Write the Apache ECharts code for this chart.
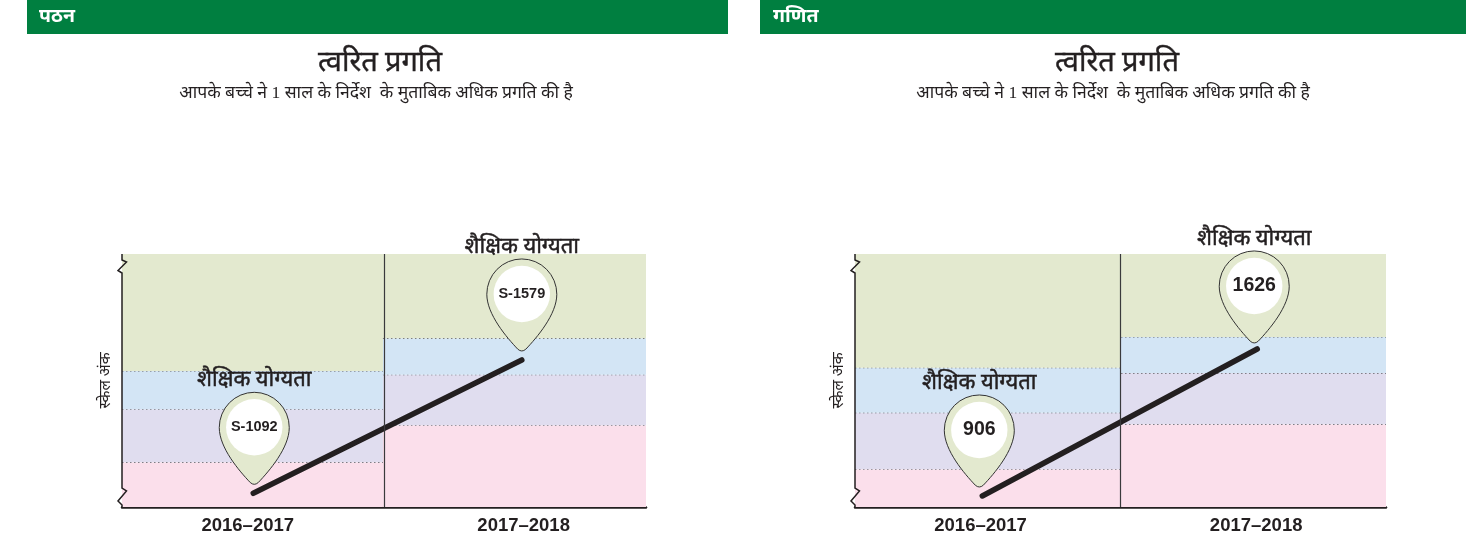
<!DOCTYPE html>
<html>
<head>
<meta charset="utf-8">
<style>
  html, body { margin: 0; padding: 0; background: #fff; }
  #main { width: 1466px; height: 545px; }
</style>
<script src="https://cdn.jsdelivr.net/npm/echarts@6/dist/echarts.min.js"></script>
</head>
<body>
<div id="main"></div>
<script>
var periods = ['2016–2017', '2017–2018']
var headline = 'त्वरित प्रगति'
var subline = 'आपके बच्चे ने 1 साल के निर्देश  के मुताबिक अधिक प्रगति की है'
var pinTitle = 'शैक्षिक योग्यता'
var yName = 'स्केल अंक'

// पठन
var readingScores = [1092, 1579]
var readingPinText = ['S-1092', 'S-1579']
var readingX = [0.501, 1.526]
var readingLabelX = [0.48, 1.533]
var readingBands2016 = [1042, 1205, 1399, 1539, 1966]
var readingBands2017 = [1042, 1341, 1525, 1658, 1966]
var readingDivider = 0.996

// गणित
var mathScores = [906, 1626]
var mathPinText = ['906', '1626']
var mathX = [0.4795, 1.515]
var mathLabelX = [0.473, 1.511]
var mathBands2016 = [852, 1037, 1314, 1534, 2091]
var mathBands2017 = [852, 1257, 1508, 1685, 2091]
var mathDivider = 1.002

var bandColors = ['#fbdfeb', '#e0ddef', '#d3e5f5', '#e3e9cf']
var inkColor = '#231f20'
var textFont = '"Liberation Serif", "Noto Sans", serif'
var numFont = '"Liberation Sans", Arial, sans-serif'

var panels = [
  {
    name: 'पठन', left: 122, width: 524, top: 254, height: 253, barLeft: 27, barWidth: 701,
    nameX: 34, headX: 375, subX: 371,
    scores: readingScores, pinText: readingPinText, x: readingX, labelX: readingLabelX,
    bands: [readingBands2016, readingBands2017], divider: readingDivider,
    pinFont: 14.5, pinShift: [[1, -9], [0, -9]]
  },
  {
    name: 'गणित', left: 855, width: 531, top: 254, height: 253, barLeft: 760, barWidth: 706,
    nameX: 768, headX: 1112, subX: 1108,
    scores: mathScores, pinText: mathPinText, x: mathX, labelX: mathLabelX,
    bands: [mathBands2016, mathBands2017], divider: mathDivider,
    pinFont: 19.5, pinShift: [[-3, -9], [-3, -6]]
  }
]

// रंगीन पट्टियाँ
function bandSeries (panel, i) {
  var data = []
  panel.bands.forEach(function (edges, col) {
    for (var k = 0; k < edges.length - 1; k++) {
      data.push([col === 0 ? 0 : panel.divider, col === 0 ? panel.divider : 2, edges[k], edges[k + 1], k])
    }
  })
  return {
    type: 'custom',
    xAxisIndex: i,
    yAxisIndex: i,
    z: 1,
    silent: true,
    data: data,
    renderItem: function (params, api) {
      var a = api.coord([api.value(0), api.value(3)])
      var b = api.coord([api.value(1), api.value(2)])
      var kids = [{
        type: 'rect',
        shape: { x: a[0], y: a[1], width: b[0] - a[0], height: b[1] - a[1] },
        style: { fill: bandColors[api.value(4)] }
      }]
      if (api.value(4) < 3) {
        kids.push({
          type: 'line',
          shape: { x1: a[0], y1: a[1], x2: b[0], y2: a[1] },
          style: { stroke: '#5c5c60', lineWidth: 1.2, lineDash: [1.5, 2.5] }
        })
      }
      return { type: 'group', children: kids }
    }
  }
}

// टूटा हुआ y अक्ष
function breakAxisSeries (panel, i) {
  return {
    type: 'custom',
    xAxisIndex: i,
    yAxisIndex: i,
    z: 3,
    silent: true,
    data: [[0, panel.bands[0][0], panel.bands[0][4]]],
    renderItem: function (params, api) {
      var top = api.coord([api.value(0), api.value(2)])
      var bottom = api.coord([api.value(0), api.value(1)])
      var x = top[0]
      var t = top[1]
      var b = bottom[1]
      return {
        type: 'polyline',
        shape: {
          points: [
            [x, t], [x, t + 6], [x + 4.5, t + 8], [x - 4, t + 16.5], [x, t + 19],
            [x, b - 19], [x + 4.5, b - 16], [x - 4, b - 6], [x, b - 2], [x, b]
          ]
        },
        style: { stroke: inkColor, lineWidth: 1.5, fill: null }
      }
    }
  }
}

function pinSeries (panel, i) {
  return {
    type: 'custom',
    xAxisIndex: i,
    yAxisIndex: i,
    z: 5,
    silent: true,
    data: panel.scores.map(function (v, k) { return [panel.x[k], v] }),
    renderItem: function (params, api) {
      var p = api.coord([api.value(0), api.value(1)])
      var shift = panel.pinShift[params.dataIndex]
      var cx = p[0] + shift[0]
      var tip = p[1] + shift[1]
      return {
        type: 'group',
        children: [
          {
            type: 'path',
            shape: {
              pathData: 'M0,35 A35,35 0 1 1 70,35 C70,55 50,78 39,89.5 Q35,93 31,89.5 C20,78 0,55 0,35 Z',
              x: cx - 35,
              y: tip - 92,
              width: 70,
              height: 92,
              layout: 'cover'
            },
            style: { fill: '#e3e9cf', stroke: '#333', lineWidth: 1 }
          },
          {
            type: 'circle',
            shape: { cx: cx, cy: tip - 57, r: 28.2 },
            style: { fill: '#fff' }
          },
          {
            type: 'text',
            style: {
              text: panel.pinText[params.dataIndex],
              x: cx,
              y: tip - 57,
              align: 'center',
              verticalAlign: 'middle',
              fill: inkColor,
              font: 'bold ' + panel.pinFont + 'px ' + numFont
            }
          },
          {
            type: 'text',
            style: {
              text: pinTitle,
              x: cx,
              y: tip - 104,
              align: 'center',
              verticalAlign: 'middle',
              fill: inkColor,
              stroke: inkColor,
              lineWidth: 0.5,
              font: '22px ' + textFont
            }
          }
        ]
      }
    }
  }
}

var option = {
  animation: false,
  backgroundColor: '#fff',
  title: [],
  graphic: [],
  grid: [],
  xAxis: [],
  yAxis: [],
  series: []
}

panels.forEach(function (panel, i) {
  option.graphic.push({
    type: 'rect',
    shape: { x: panel.barLeft, y: 0, width: panel.barWidth, height: 34 },
    style: { fill: '#007f40' }
  })
  option.title.push(
    { text: panel.name, left: panel.nameX, top: 2, textStyle: { color: '#fff', fontSize: 19.5, fontWeight: 'bold', fontFamily: textFont } },
    { text: headline, left: panel.headX, top: 44, textAlign: 'center', textStyle: { color: inkColor, fontSize: 29, fontWeight: 'normal', fontFamily: textFont, textBorderColor: inkColor, textBorderWidth: 0.4 } },
    { text: subline, left: panel.subX, top: 79, textAlign: 'center', textStyle: { color: inkColor, fontSize: 17.6, fontWeight: 'normal', fontFamily: textFont } }
  )
  option.grid.push({ left: panel.left, top: panel.top, width: panel.width, height: panel.height })
  option.xAxis.push({
    type: 'value',
    gridIndex: i,
    min: 0,
    max: 2,
    splitLine: { show: false },
    axisTick: { show: false },
    axisLine: { show: true, onZero: false, lineStyle: { color: inkColor, width: 2.5 } },
    axisLabel: {
      customValues: panel.labelX,
      formatter: function (v) { return periods[panel.labelX.indexOf(v)] },
      color: inkColor,
      fontSize: 18.5,
      fontWeight: 'bold',
      fontFamily: numFont,
      margin: 9
    }
  })
  option.yAxis.push({
    type: 'value',
    gridIndex: i,
    min: panel.bands[0][0],
    max: panel.bands[0][4],
    name: yName,
    nameLocation: 'middle',
    nameGap: 8,
    nameTextStyle: { color: inkColor, fontSize: 15.5, fontFamily: textFont },
    splitLine: { show: false },
    axisTick: { show: false },
    axisLabel: { show: false },
    axisLine: { show: false }
  })
  option.series.push(bandSeries(panel, i), breakAxisSeries(panel, i), {
    type: 'line',
    xAxisIndex: i,
    yAxisIndex: i,
    z: 4,
    silent: true,
    showSymbol: false,
    data: panel.scores.map(function (v, k) { return [panel.x[k], v] }),
    lineStyle: { color: inkColor, width: 5.5, cap: 'round' },
    markLine: {
      silent: true,
      symbol: 'none',
      label: { show: false },
      lineStyle: { color: '#3a3a3c', width: 1.2, type: 'solid' },
      data: [{ xAxis: panel.divider }]
    }
  }, pinSeries(panel, i))
})

var chart = echarts.init(document.getElementById('main'), null, { renderer: 'canvas' })
chart.setOption(option)
</script>
</body>
</html>
